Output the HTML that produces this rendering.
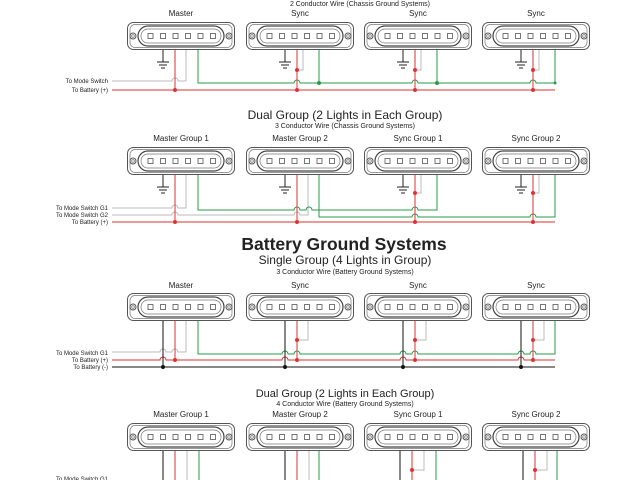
<!DOCTYPE html>
<html><head><meta charset="utf-8"><style>
html,body{margin:0;padding:0;background:#fff;}
svg{display:block;font-family:"Liberation Sans",sans-serif;}
</style></head><body>
<svg width="640" height="480" viewBox="0 0 640 480" xmlns="http://www.w3.org/2000/svg">
<defs>
<g id="L">
<rect x="0.5" y="0.5" width="107" height="27" rx="6" fill="#fff" stroke="#555" stroke-width="1"/>
<rect x="3" y="2.5" width="102" height="23" rx="5" fill="none" stroke="#777" stroke-width="0.7"/>
<rect x="11" y="4" width="86" height="20" rx="10" fill="#fff" stroke="#444" stroke-width="1.2"/>
<rect x="14" y="7" width="80" height="14" rx="7" fill="none" stroke="#777" stroke-width="0.7"/>
<circle cx="6" cy="14" r="3" fill="none" stroke="#555"/><circle cx="6" cy="14" r="1.3" fill="none" stroke="#555" stroke-width="0.6"/>
<circle cx="102" cy="14" r="3" fill="none" stroke="#555"/><circle cx="102" cy="14" r="1.3" fill="none" stroke="#555" stroke-width="0.6"/>
<g fill="none" stroke="#555" stroke-width="0.8">
<rect x="21" y="11.5" width="5" height="5"/><rect x="33.5" y="11.5" width="5" height="5"/><rect x="46" y="11.5" width="5" height="5"/>
<rect x="58.5" y="11.5" width="5" height="5"/><rect x="71" y="11.5" width="5" height="5"/><rect x="83.5" y="11.5" width="5" height="5"/>
</g>
</g>
<g id="G" stroke="#222" stroke-width="1" fill="none">
<path d="M0 0V12M-6 12H6M-4 15H4M-2 18H2"/>
</g>
</defs>

<g text-anchor="middle" fill="#222">
<text x="360" y="6" font-size="7">2 Conductor Wire (Chassis Ground Systems)</text>
<text x="181" y="16" font-size="8">Master</text><text x="300" y="16" font-size="8">Sync</text>
<text x="418" y="16" font-size="8">Sync</text><text x="536" y="16" font-size="8">Sync</text>
<text x="345" y="119" font-size="12">Dual Group (2 Lights in Each Group)</text>
<text x="345" y="128" font-size="7">3 Conductor Wire (Chassis Ground Systems)</text>
<text x="181" y="141" font-size="8">Master Group 1</text><text x="300" y="141" font-size="8">Master Group 2</text>
<text x="418" y="141" font-size="8">Sync Group 1</text><text x="536" y="141" font-size="8">Sync Group 2</text>
<text x="344" y="250" font-size="17.5" font-weight="bold">Battery Ground Systems</text>
<text x="345" y="264" font-size="12">Single Group (4 Lights in Group)</text>
<text x="345" y="274" font-size="7">3 Conductor Wire (Battery Ground Systems)</text>
<text x="181" y="288" font-size="8">Master</text><text x="300" y="288" font-size="8">Sync</text>
<text x="418" y="288" font-size="8">Sync</text><text x="536" y="288" font-size="8">Sync</text>
<text x="345" y="397" font-size="11">Dual Group (2 Lights in Each Group)</text>
<text x="345" y="406" font-size="7">4 Conductor Wire (Battery Ground Systems)</text>
<text x="181" y="417" font-size="8">Master Group 1</text><text x="300" y="417" font-size="8">Master Group 2</text>
<text x="418" y="417" font-size="8">Sync Group 1</text><text x="536" y="417" font-size="8">Sync Group 2</text>
</g>
<g text-anchor="end" fill="#222" font-size="6">
<text x="108" y="83">To Mode Switch</text><text x="108" y="92">To Battery (+)</text>
<text x="108" y="210">To Mode Switch G1</text><text x="108" y="217">To Mode Switch G2</text><text x="108" y="224">To Battery (+)</text>
<text x="108" y="355">To Mode Switch G1</text><text x="108" y="362">To Battery (+)</text><text x="108" y="369">To Battery (-)</text>
<text x="108" y="481">To Mode Switch G1</text>
</g>

<!-- Section 1 -->
<g fill="none" stroke-width="1">
<path stroke="#bbb" d="M112 81H172a3 3 0 0 1 6 0H186V50"/>
<path stroke="#bbb" d="M303 50V70H297M421 50V70H415M539 50V70H533"/>
<path stroke="#2a9a4a" d="M198 50V83H294a3 3 0 0 1 6 0H412a3 3 0 0 1 6 0H530a3 3 0 0 1 6 0H555V50M437 50V83M319 50V83"/>
<path stroke="#d33" d="M112 90H555M175 50V90M297 50V90M415 50V90M533 50V90"/>
</g>
<g fill="#d33"><circle cx="175" cy="90" r="2"/><circle cx="297" cy="90" r="2"/><circle cx="415" cy="90" r="2"/><circle cx="533" cy="90" r="2"/>
<circle cx="297" cy="70" r="2"/><circle cx="415" cy="70" r="2"/><circle cx="533" cy="70" r="2"/></g>
<g fill="#2a9a4a"><circle cx="319" cy="83" r="2"/><circle cx="437" cy="83" r="2"/><circle cx="555" cy="83" r="1.5"/></g>
<use href="#G" x="163" y="50"/><use href="#G" x="285" y="50"/><use href="#G" x="403" y="50"/><use href="#G" x="521" y="50"/>
<use href="#L" x="127" y="22"/><use href="#L" x="246" y="22"/><use href="#L" x="364" y="22"/><use href="#L" x="482" y="22"/>

<!-- Section 2 -->
<g fill="none" stroke-width="1">
<path stroke="#bbb" d="M112 208H172a3 3 0 0 1 6 0H186V175"/>
<path stroke="#bbb" d="M112 215H172a3 3 0 0 1 6 0H294a3 3 0 0 1 6 0H308V175"/>
<path stroke="#bbb" d="M421 175V193H415M539 175V193H533"/>
<path stroke="#2a9a4a" d="M198 175V210H294a3 3 0 0 1 6 0H306a3 3 0 0 1 6 0H412a3 3 0 0 1 6 0H437V175"/>
<path stroke="#2a9a4a" d="M319 175V217H412a3 3 0 0 1 6 0H530a3 3 0 0 1 6 0H555V175"/>
<path stroke="#d33" d="M112 222H555M175 175V222M297 175V222M415 175V222M533 175V222"/>
</g>
<g fill="#d33"><circle cx="175" cy="222" r="2"/><circle cx="297" cy="222" r="2"/><circle cx="415" cy="222" r="2"/><circle cx="533" cy="222" r="2"/>
<circle cx="415" cy="193" r="2"/><circle cx="533" cy="193" r="2"/></g>
<use href="#G" x="163" y="175"/><use href="#G" x="285" y="175"/><use href="#G" x="403" y="175"/><use href="#G" x="521" y="175"/>
<use href="#L" x="127" y="147"/><use href="#L" x="246" y="147"/><use href="#L" x="364" y="147"/><use href="#L" x="482" y="147"/>

<!-- Section 3 -->
<g fill="none" stroke-width="1">
<path stroke="#bbb" d="M112 352H160a3 3 0 0 1 6 0H172a3 3 0 0 1 6 0H186V321"/>
<path stroke="#bbb" d="M308 321V340H297M426 321V340H415M544 321V340H533"/>
<path stroke="#2a9a4a" d="M198 321V354H282a3 3 0 0 1 6 0H294a3 3 0 0 1 6 0H400a3 3 0 0 1 6 0H412a3 3 0 0 1 6 0H518a3 3 0 0 1 6 0H530a3 3 0 0 1 6 0H555V321"/>
<path stroke="#d33" d="M112 360H160a3 3 0 0 1 6 0H282a3 3 0 0 1 6 0H400a3 3 0 0 1 6 0H518a3 3 0 0 1 6 0H555M175 321V360M297 321V360M415 321V360M533 321V360"/>
<path stroke="#111" d="M112 367H555M163 321V367M285 321V367M403 321V367M521 321V367"/>
</g>
<g fill="#d33"><circle cx="175" cy="360" r="2"/><circle cx="297" cy="360" r="2"/><circle cx="415" cy="360" r="2"/><circle cx="533" cy="360" r="2"/>
<circle cx="297" cy="340" r="2"/><circle cx="415" cy="340" r="2"/><circle cx="533" cy="340" r="2"/></g>
<g fill="#111"><circle cx="163" cy="367" r="2"/><circle cx="285" cy="367" r="2"/><circle cx="403" cy="367" r="2"/><circle cx="521" cy="367" r="2"/></g>
<use href="#L" x="127" y="293"/><use href="#L" x="246" y="293"/><use href="#L" x="364" y="293"/><use href="#L" x="482" y="293"/>

<!-- Section 4 -->
<g fill="none" stroke-width="1">
<path stroke="#111" d="M163 451V480M285 451V480M400 451V480M523 451V480"/>
<path stroke="#d33" d="M175 451V480M297 451V480M412 451V470M535 451V470"/>
<path stroke="#bbb" d="M187 451V480M309 451V480M424 451V470H412M547 451V470H535"/>
<path stroke="#2a9a4a" d="M199 451V480M319 451V480M436 451V480M557 451V480"/>
<path stroke="#d33" d="M412 470V480M535 470V480"/>
</g>
<g fill="#d33"><circle cx="412" cy="470" r="2"/><circle cx="535" cy="470" r="2"/></g>
<use href="#L" x="127" y="423"/><use href="#L" x="246" y="423"/><use href="#L" x="364" y="423"/><use href="#L" x="482" y="423"/>
</svg>
</body></html>
